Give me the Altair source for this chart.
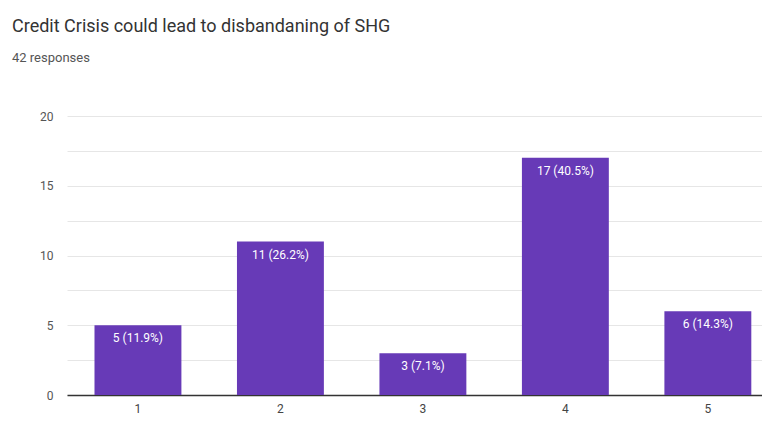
import altair as alt
import pandas as pd

categories = ["1", "2", "3", "4", "5"]
counts = [5, 11, 3, 17, 6]
percents = ["11.9%", "26.2%", "7.1%", "40.5%", "14.3%"]

df = pd.DataFrame({
    "cat": categories,
    "count": counts,
    "label": [f"{c} ({p})" for c, p in zip(counts, percents)],
})

x = alt.X("cat:N", title=None,
          scale=alt.Scale(paddingInner=0.39, paddingOuter=0.134, align=0.72),
          axis=alt.Axis(labelAngle=0, ticks=False, domain=True, domainColor="#333333",
                        domainWidth=1.5, labelColor="#444444", labelFontSize=12,
                        labelPadding=8, labelFont="Roboto", grid=False))
y = alt.Y("count:Q", title=None,
          scale=alt.Scale(domain=[0, 20]),
          axis=alt.Axis(values=[0, 2.5, 5, 7.5, 10, 12.5, 15, 17.5, 20],
                        labelExpr="datum.value % 5 == 0 ? datum.value : ''",
                        ticks=False, domain=False, gridColor="#e6e6e6",
                        labelColor="#555555", labelFontSize=12, labelPadding=14,
                        labelFont="Roboto"))

bars = alt.Chart(df).mark_bar(color="#673ab7").encode(x=x, y=y)
text = alt.Chart(df).mark_text(color="white", baseline="top", dy=8, fontSize=12,
                               font="Roboto").encode(x=x, y=y, text="label:N")

chart = (bars + text).properties(
    width=695, height=279,
    title=alt.TitleParams(
        "Credit Crisis could lead to disbandaning of SHG",
        subtitle="42 responses",
        anchor="start", frame="group", dx=-55, offset=45,
        font="Roboto", fontSize=18, fontWeight="normal", color="#333333",
        subtitleFont="Roboto", subtitleFontSize=13, subtitleColor="#555555",
        subtitlePadding=16,
    ),
    padding={"left": 59, "top": 108, "right": 0, "bottom": 30},
    autosize=alt.AutoSizeParams(type="none"),
).configure(background="white", view=alt.ViewConfig(stroke=None))

chart.save("out.html", embed_options={"renderer": "svg", "actions": False})
